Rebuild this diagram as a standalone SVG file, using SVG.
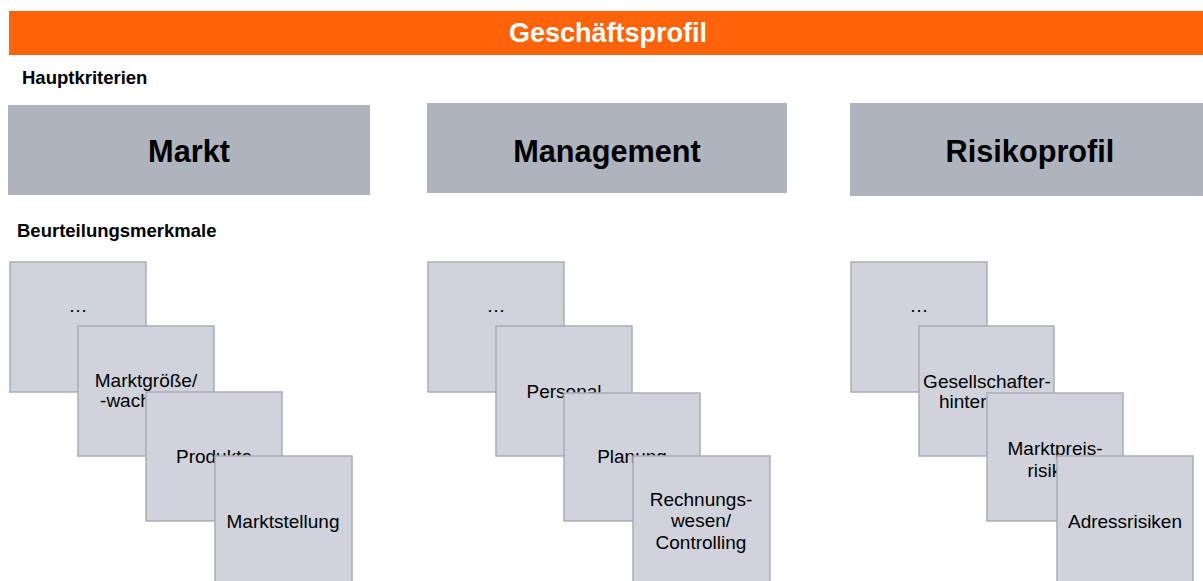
<svg xmlns="http://www.w3.org/2000/svg" width="1203" height="581" viewBox="0 0 1203 581">
<style>
.bar{fill:#FF6309}
.hdr{fill:#AFB3BE}
.card{fill:#D0D3DB;stroke:#A9ADB7;stroke-width:1.5}
.title{font-family:"Liberation Sans",Arial,sans-serif;font-weight:bold;font-size:27px;fill:#FFFFFF;text-anchor:middle}
.sec{font-family:"Liberation Sans",Arial,sans-serif;font-weight:bold;font-size:18.5px;fill:#000000}
.htxt{font-family:"Liberation Sans",Arial,sans-serif;font-weight:bold;font-size:30.7px;fill:#000000;text-anchor:middle}
.ctxt{font-family:"Liberation Sans",Arial,sans-serif;font-size:19px;fill:#000000;text-anchor:middle}
</style>
<rect width="1203" height="581" fill="#FFFFFF"/>
<g id="title">
<rect class="bar" x="9" y="11" width="1194" height="44"/>
<text class="title" x="608" y="42">Geschäftsprofil</text>
</g>
<g id="label-hauptkriterien"><text class="sec" x="22" y="84">Hauptkriterien</text></g>
<g id="label-beurteilungsmerkmale"><text class="sec" x="17" y="237">Beurteilungsmerkmale</text></g>
<g id="hdr-markt">
<rect class="hdr" x="8" y="105" width="362" height="90"/>
<text class="htxt" x="189" y="162">Markt</text>
</g>
<g id="hdr-management">
<rect class="hdr" x="427" y="103" width="360" height="90"/>
<text class="htxt" x="607" y="162">Management</text>
</g>
<g id="hdr-risikoprofil">
<rect class="hdr" x="850" y="103" width="353" height="93"/>
<text class="htxt" x="1030" y="162">Risikoprofil</text>
</g>
<g id="markt-1"><rect class="card" x="10" y="262" width="136" height="130"/><text class="ctxt" x="78" y="312">…</text></g>
<g id="markt-2"><rect class="card" x="78" y="326" width="136" height="130"/><text class="ctxt" x="146" y="387">Marktgröße/</text><text class="ctxt" x="146" y="407">-wachstum</text></g>
<g id="markt-3"><rect class="card" x="146" y="392" width="136" height="129"/><text class="ctxt" x="214" y="463">Produkte</text></g>
<g id="markt-4"><rect class="card" x="215" y="456" width="137" height="132"/><text class="ctxt" x="283" y="528">Marktstellung</text></g>
<g id="mgmt-1"><rect class="card" x="428" y="262" width="136" height="130"/><text class="ctxt" x="496" y="312">…</text></g>
<g id="mgmt-2"><rect class="card" x="496" y="326" width="136" height="130"/><text class="ctxt" x="564" y="398">Personal</text></g>
<g id="mgmt-3"><rect class="card" x="564" y="393" width="136" height="128"/><text class="ctxt" x="632" y="463">Planung</text></g>
<g id="mgmt-4"><rect class="card" x="633" y="456" width="137" height="132"/><text class="ctxt" x="701" y="506">Rechnungs-</text><text class="ctxt" x="701" y="527">wesen/</text><text class="ctxt" x="701" y="549">Controlling</text></g>
<g id="risk-1"><rect class="card" x="851" y="262" width="136" height="130"/><text class="ctxt" x="919" y="312">…</text></g>
<g id="risk-2"><rect class="card" x="919" y="326" width="135" height="130"/><text class="ctxt" x="987" y="388">Gesellschafter-</text><text class="ctxt" x="987" y="408">hintergrund</text></g>
<g id="risk-3"><rect class="card" x="987" y="393" width="136" height="128"/><text class="ctxt" x="1055" y="455">Marktpreis-</text><text class="ctxt" x="1055" y="477">risiken</text></g>
<g id="risk-4"><rect class="card" x="1057" y="456" width="136" height="132"/><text class="ctxt" x="1125" y="528">Adressrisiken</text></g>
<g id="connectors"></g>
</svg>
